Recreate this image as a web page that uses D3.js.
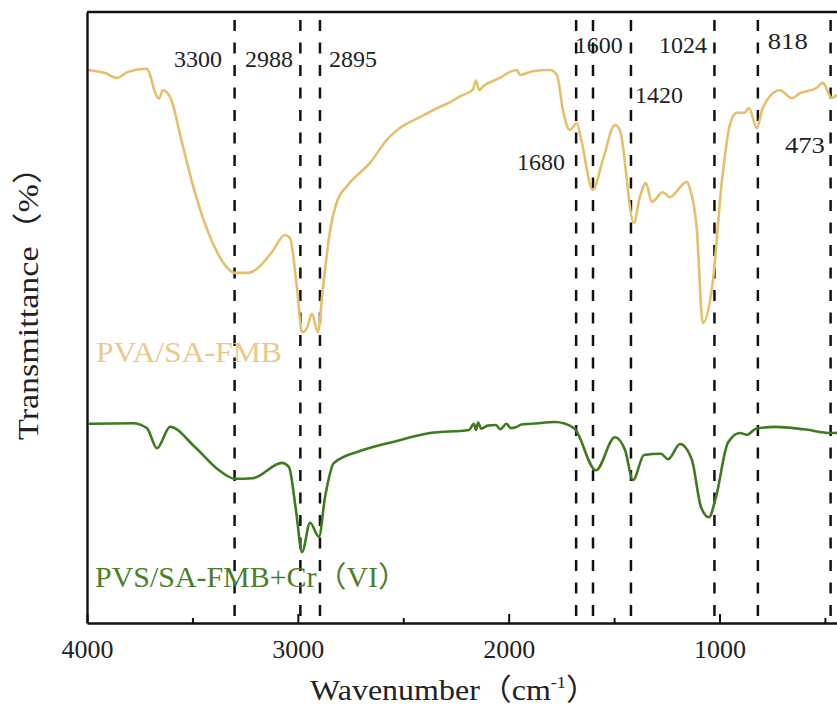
<!DOCTYPE html>
<html>
<head>
<meta charset="utf-8">
<script src="https://cdn.jsdelivr.net/npm/d3@7"></script>
<style>
  html, body { margin: 0; padding: 0; background: #fff; }
  svg { display: block; }
  text { font-family: "Liberation Serif", "Times New Roman", "Noto Sans CJK SC", serif; }
</style>
</head>
<body>
<svg id="chart" width="837" height="715"></svg>
<script>
// ---------------- data ----------------
// PVA/SA-FMB spectrum (wavenumber, relative transmittance)
const pvaWave = [3995,3915,3858,3806,3716,3701,3678,3659,3640,3606,3550,3502,3455,3393,3346,3298,3237,3189,3123,3061,3037,3004,2980,2957,2933,2905,2881,2848,2815,2762,2658,2577,2516,2421,2326,2279,2231,2170,2155,2140,2122,2042,1994,1961,1947,1885,1805,1771,1743,1710,1677,1653,1601,1553,1496,1473,1406,1378,1349,1321,1269,1236,1155,1141,1108,1079,1032,989,951,918,880,861,823,795,714,657,619,539,510,467,444,400];
const pvaT    = [90.5,90.0,89.2,90.2,90.7,89.7,86.9,85.8,87.2,86.1,78.7,72.2,66.8,61.4,58.6,57.3,57.3,58.1,60.7,63.5,63.0,54.8,47.6,48.3,50.6,47.6,54.8,64.0,68.9,71.7,75.3,79.1,81.0,82.8,84.5,85.2,86.2,87.3,88.8,87.2,87.8,89.2,90.2,90.5,89.7,90.3,90.5,89.7,84.0,80.7,81.8,78.6,70.9,75.8,81.5,80.7,65.5,69.7,72.0,68.9,70.5,69.7,72.2,71.2,64.6,49.1,55.8,72.2,81.5,83.5,83.5,84.3,81.0,84.3,87.2,85.9,86.7,87.6,88.4,85.9,86.4,86.7];

// PVS/SA-FMB+Cr(VI) spectrum
const crWave = [3991,3782,3716,3668,3606,3488,3374,3298,3213,3075,3042,3009,2980,2942,2900,2871,2829,2691,2553,2373,2188,2165,2155,2145,2130,2100,2060,2040,2010,1990,1961,1940,1890,1780,1690,1586,1496,1448,1410,1358,1278,1244,1187,1131,1088,1050,1017,960,903,870,827,732,600,471,400];
const crT    = [32.6,32.7,31.9,28.6,32.1,28.8,25.0,23.6,23.7,26.2,25.5,18.5,11.6,16.4,14.1,20.6,26.2,28.3,29.6,31.1,31.6,32.6,31.6,32.8,31.8,32.3,32.4,31.7,32.6,31.9,32.1,32.5,32.6,32.9,31.9,25.0,30.4,28.3,23.4,27.5,27.7,26.8,29.3,26.7,19.0,17.3,20.6,29.5,31.1,30.8,31.8,32.1,31.7,31.1,31.3];

// marked peaks (dashed reference lines)
const peakWave = [3300,2988,2895,1680,1600,1420,1024,818,473];

// peak annotation labels: text, anchor wavenumber, anchor transmittance, alignment
const annText   = ["3300","2988","2895","1600","1024","818","1420","1680","473"];
const annWave   = [3360,3251,2852,1686,1287,771,1401,1733,500];
const annT      = [91.0,91.0,91.0,93.3,93.3,93.9,85.1,74.1,76.9];
const annAnchor = ["end","start","start","start","start","start","start","end","end"];

const majorTicks = [4000,3000,2000,1000];
const minorTicks = [3500,2500,1500,500];

const seriesNames = ["PVA/SA-FMB","PVS/SA-FMB+Cr（VI）"];
const seriesColors = ["#E3C06C","#3F7A1F"];
const labelColors = ["#E9CA8C","#4C7E2A"];

// ---------------- layout ----------------
const svg = d3.select("#chart");
const L = 87, R = 846, T = 12, B = 623;
const x = d3.scaleLinear().domain([4000,400]).range([L,R]);
const y = d3.scaleLinear().domain([0,100]).range([B,T]);

svg.append("rect").attr("width",837).attr("height",715).attr("fill","#fff");

function fitText(parent, str, px, py, width, size, anchor, fill, rotate) {
  const g = parent.append("g").attr("transform", `translate(${px},${py})` + (rotate ? ` rotate(${rotate})` : ""));
  const t = g.append("text").text(str)
    .attr("font-size", size).attr("text-anchor", anchor).attr("fill", fill);
  const w = t.node().getComputedTextLength();
  if (w > 0 && width) t.attr("transform", `scale(${width / w},1)`);
  return t;
}

// dashed peak lines
svg.append("g").selectAll("line").data(peakWave).join("line")
  .attr("x1", d => x(d)).attr("x2", d => x(d))
  .attr("y1", 20).attr("y2", B)
  .attr("stroke", "#111").attr("stroke-width", 2.5)
  .attr("stroke-dasharray", "11,11.5");

// spectra
const line = d3.line().x(d => x(d[0])).y(d => y(d[1])).curve(d3.curveMonotoneX);
const pvaData = pvaWave.map((w,i) => [w, pvaT[i]]);
const crData = crWave.map((w,i) => [w, crT[i]]);
svg.append("path").datum(pvaData).attr("d", line)
  .attr("fill","none").attr("stroke", seriesColors[0]).attr("stroke-width", 2.6).attr("stroke-linejoin","round");
svg.append("path").datum(crData).attr("d", line)
  .attr("fill","none").attr("stroke", seriesColors[1]).attr("stroke-width", 2.6).attr("stroke-linejoin","round");

// axes
const xAxis = svg.append("g").attr("transform", `translate(0,${B})`)
  .call(d3.axisBottom(x).tickValues(majorTicks).tickSize(-9).tickSizeOuter(0).tickPadding(17).tickFormat(d3.format("d")));
xAxis.attr("font-family", null);
xAxis.select(".domain").attr("stroke","#111").attr("stroke-width",2.4);
xAxis.selectAll(".tick line").attr("stroke","#111").attr("stroke-width",2);
xAxis.selectAll(".tick text").attr("font-size",26).attr("fill","#222");

const xMinor = svg.append("g").attr("transform", `translate(0,${B})`)
  .call(d3.axisBottom(x).tickValues(minorTicks).tickSize(-5).tickSizeOuter(0).tickFormat(""));
xMinor.select(".domain").remove();
xMinor.selectAll(".tick line").attr("stroke","#111").attr("stroke-width",2);

const yAxis = svg.append("g").attr("transform", `translate(${L},0)`)
  .call(d3.axisLeft(y).tickValues([]).tickSizeOuter(0));
yAxis.select(".domain").attr("stroke","#111").attr("stroke-width",2.4);

// top frame
svg.append("line").attr("x1", L).attr("x2", R).attr("y1", T).attr("y2", T)
  .attr("stroke","#111").attr("stroke-width",2.6);

// peak annotations
annText.forEach((s,i) => {
  fitText(svg, s, x(annWave[i]), y(annT[i]), s.length === 3 ? 40 : 48, 23, annAnchor[i], "#222");
});

// series labels
fitText(svg, seriesNames[0], 96, 362, 186, 29, "start", labelColors[0]);
fitText(svg, seriesNames[1], 95, 587, 313, 29, "start", labelColors[1]);

// axis titles
const xt = svg.append("g").attr("transform","translate(454,700)");
const xtt = xt.append("text").attr("text-anchor","middle").attr("font-size",30).attr("fill","#222");
xtt.append("tspan").text("Wavenumber（cm");
xtt.append("tspan").text("-1").attr("font-size",17).attr("dy",-12);
xtt.append("tspan").text("）").attr("dy",12);
const xw = xtt.node().getComputedTextLength();
xtt.attr("transform", `scale(${288/xw},1)`);

fitText(svg, "Transmittance（%）", 38, 295, 290, 30, "middle", "#222", -90);
</script>
</body>
</html>
